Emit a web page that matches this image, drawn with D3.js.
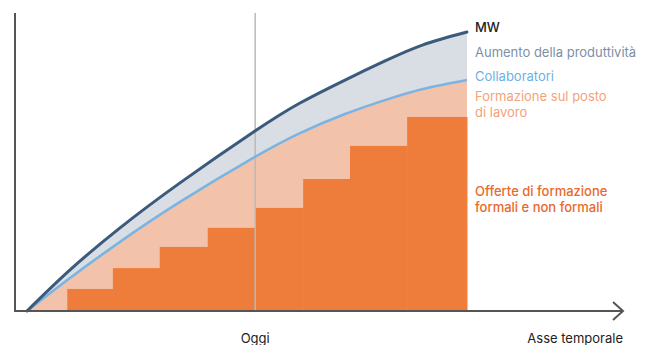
<!DOCTYPE html>
<html>
<head>
<meta charset="utf-8">
<script src="https://cdn.jsdelivr.net/npm/d3@7"></script>
<style>
  html, body { margin: 0; padding: 0; background: #fff; }
  svg { display: block; font-family: Inter, "Noto Sans", sans-serif; }
</style>
</head>
<body>
<svg id="chart" width="653" height="345"></svg>
<script>
// Time on x (0–100), capability level on y (0–100)
const mwTime       = [1.97, 9.05, 17.27, 27.14, 39.47, 46.88, 54.28, 60.86, 67.11, 74.34];
const mwLevel      = [0,    13.8, 27.9,  43.0,  60.4,  69.8,  77.5,  83.9,  89.3,  93.6];
const collabTime   = [1.97, 9.05, 17.27, 27.14, 39.47, 46.88, 54.28, 61.35, 67.11, 74.34];
const collabLevel  = [0,    11.1, 23.2,  36.6,  51.7,  59.7,  66.1,  71.1,  74.5,  77.5];
// Formal / non-formal training offers as steps
const stepStart    = [8.6, 16.1, 23.8, 31.7, 39.6, 47.4, 55.1, 64.5];
const stepEnd      = [16.1, 23.8, 31.7, 39.6, 47.4, 55.1, 64.5, 74.34];
const stepLevel    = [7.4, 14.4, 21.5, 27.9, 34.6, 44.3, 55.4, 65.1];
const todayTime    = 39.5;
const seriesLabels = [
  { lines: ["MW"], color: "#222222", weight: 500 },
  { lines: ["Aumento della produttività"], color: "#7d8fa6", weight: 400 },
  { lines: ["Collaboratori"], color: "#6eb0e6", weight: 400 },
  { lines: ["Formazione sul posto", "di lavoro"], color: "#f4a27c", weight: 400 },
  { lines: ["Offerte di formazione", "formali e non formali"], color: "#e9692a", weight: 500 }
];
const axisLabels = { today: "Oggi", time: "Asse temporale" };

const svg = d3.select("#chart");
const x = d3.scaleLinear().domain([0, 100]).range([15, 623]);
const y = d3.scaleLinear().domain([0, 100]).range([311, 13]);

const mw = mwTime.map((t, i) => ({ t, v: mwLevel[i] }));
const collab = collabTime.map((t, i) => ({ t, v: collabLevel[i] }));
const curve = d3.curveNatural;

// Band between the two curves (productivity gain)
const area = d3.area().x(d => x(d.t)).y0(y(0)).y1(d => y(d.v)).curve(curve);
svg.append("path").datum(mw).attr("d", area).attr("fill", "#d9dee5");

// Area under the collaborators curve (on-the-job training)
svg.append("path").datum(collab).attr("d", area).attr("fill", "#f2c3aa");

// Step bars
const steps = stepStart.map((s, i) => ({ s, e: stepEnd[i], v: stepLevel[i] }));
svg.append("g").selectAll("rect").data(steps).join("rect")
  .attr("x", d => x(d.s))
  .attr("width", d => x(d.e) - x(d.s) + 0.5)
  .attr("y", d => y(d.v))
  .attr("height", d => y(0) - y(d.v))
  .attr("fill", "#ee7d3b");

// "Today" marker
svg.append("line")
  .attr("x1", x(todayTime)).attr("x2", x(todayTime))
  .attr("y1", y(100)).attr("y2", y(0))
  .attr("stroke", "#b9b9b9").attr("stroke-width", 1.5);

// Curves
const line = d3.line().x(d => x(d.t)).y(d => y(d.v)).curve(curve);
svg.append("path").datum(collab).attr("d", line)
  .attr("fill", "none").attr("stroke", "#7bb4e2").attr("stroke-width", 2.6);
svg.append("path").datum(mw).attr("d", line)
  .attr("fill", "none").attr("stroke", "#3c5a7c").attr("stroke-width", 3)
  .attr("stroke-linecap", "round");

// Axes
svg.append("line")
  .attr("x1", x(0)).attr("x2", x(0)).attr("y1", y(100)).attr("y2", y(0))
  .attr("stroke", "#555").attr("stroke-width", 2);
svg.append("line")
  .attr("x1", x(0) - 1).attr("x2", x(100)).attr("y1", y(0)).attr("y2", y(0))
  .attr("stroke", "#555").attr("stroke-width", 2);
svg.append("path")
  .attr("d", `M${x(100) - 10},${y(0) - 9}L${x(100)},${y(0)}L${x(100) - 10},${y(0) + 9}`)
  .attr("fill", "none").attr("stroke", "#555").attr("stroke-width", 2);

// Axis labels
svg.append("text").attr("x", x(todayTime)).attr("y", 343)
  .attr("text-anchor", "middle").attr("font-size", 13).attr("fill", "#222")
  .text(axisLabels.today);
svg.append("text").attr("x", x(100)).attr("y", 343)
  .attr("text-anchor", "end").attr("font-size", 13).attr("fill", "#222")
  .text(axisLabels.time);

// Series labels
const labelTop = [32, 57, 81, 101, 196];
const g = svg.append("g");
seriesLabels.forEach((s, i) => {
  const t = g.append("text").attr("x", 475).attr("y", labelTop[i])
    .attr("font-size", 13).attr("fill", s.color).attr("font-weight", s.weight);
  s.lines.forEach((l, j) => {
    t.append("tspan").attr("x", 475).attr("dy", j === 0 ? 0 : 15.5).text(l);
  });
});
</script>
</body>
</html>
